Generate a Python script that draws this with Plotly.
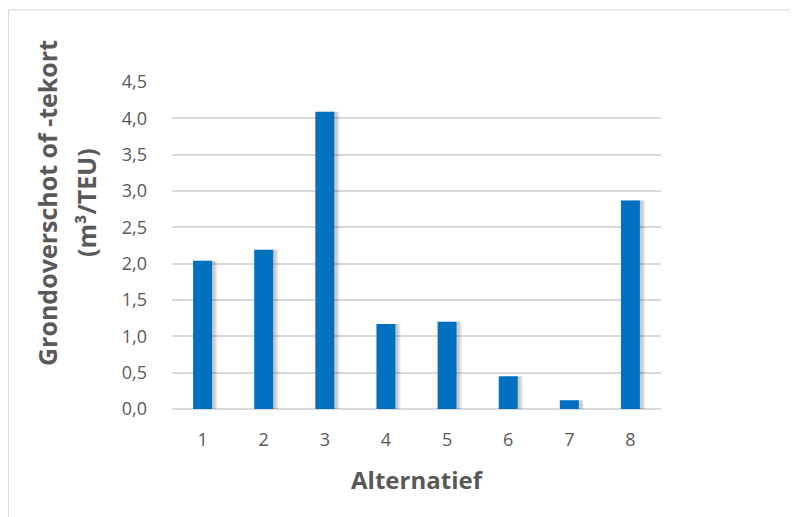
import plotly.graph_objects as go

categories = ["1", "2", "3", "4", "5", "6", "7", "8"]
values = [2.04, 2.19, 4.09, 1.17, 1.20, 0.45, 0.12, 2.87]
y_ticks = [0, 0.5, 1.0, 1.5, 2.0, 2.5, 3.0, 3.5, 4.0, 4.5]
y_tick_labels = ["0,0", "0,5", "1,0", "1,5", "2,0", "2,5", "3,0", "3,5", "4,0", "4,5"]

FONT = "Open Sans"
GREY = "#595959"
BAR_W = 0.31

# figure is drawn inside an 8px body margin, so size/margins compensate
W, H = 790, 509
L, T, PW, PH = 164, 74, 489, 327


def px(xf):
    return (xf - L) / PW


def py(yf):
    return (T + PH - yf) / PH


fig = go.Figure()
for dx, alpha in [(0.09, 0.05), (0.07, 0.07), (0.05, 0.09)]:
    fig.add_trace(go.Bar(
        x=categories, y=values, width=BAR_W, offset=-BAR_W / 2 + dx,
        marker=dict(color=f"rgba(0,0,0,{alpha})", line=dict(width=0)),
        hoverinfo="skip", showlegend=False,
    ))
fig.add_trace(go.Bar(
    x=categories, y=values, width=BAR_W, offset=-BAR_W / 2,
    marker=dict(color="#0070C0", line=dict(width=0)),
    showlegend=False, name="Alternatief",
))

fig.update_layout(
    width=W, height=H,
    margin=dict(l=L, r=W - L - PW, t=T, b=H - T - PH),
    paper_bgcolor="white", plot_bgcolor="white",
    barmode="overlay",
    font=dict(family=FONT, color=GREY, size=18),
    xaxis=dict(
        type="category", showgrid=False, zeroline=False, showline=False,
        ticks="", ticklabelstandoff=18,
        tickfont=dict(family=FONT, size=18, color=GREY),
        title=dict(text="<b>Alternatief</b>", font=dict(family=FONT, size=24, color=GREY), standoff=22),
    ),
    yaxis=dict(
        range=[0, 4.5], tickvals=y_ticks, ticktext=y_tick_labels,
        showgrid=True, gridcolor="#d9d9d9", gridwidth=1.5,
        zeroline=True, zerolinecolor="#d9d9d9", zerolinewidth=2,
        showline=False, ticks="", ticklabelstandoff=24,
        tickfont=dict(family=FONT, size=18, color=GREY),
    ),
    shapes=[dict(
        type="rect", xref="paper", yref="paper",
        x0=px(0.5), x1=px(840), y0=py(560), y1=py(2),
        line=dict(color="#d9d9d9", width=1), fillcolor="rgba(0,0,0,0)", layer="below",
    )],
    annotations=[
        dict(text="<b>Grondoverschot of -tekort</b>", xref="paper", yref="paper",
             x=px(39), y=py(195), textangle=-90, showarrow=False,
             xanchor="center", yanchor="middle",
             font=dict(family=FONT, size=25, color=GREY)),
        dict(text="<b>(m³/TEU)</b>", xref="paper", yref="paper",
             x=px(78), y=py(195), textangle=-90, showarrow=False,
             xanchor="center", yanchor="middle",
             font=dict(family=FONT, size=25, color=GREY)),
    ],
)

fig.write_html("out.html")
